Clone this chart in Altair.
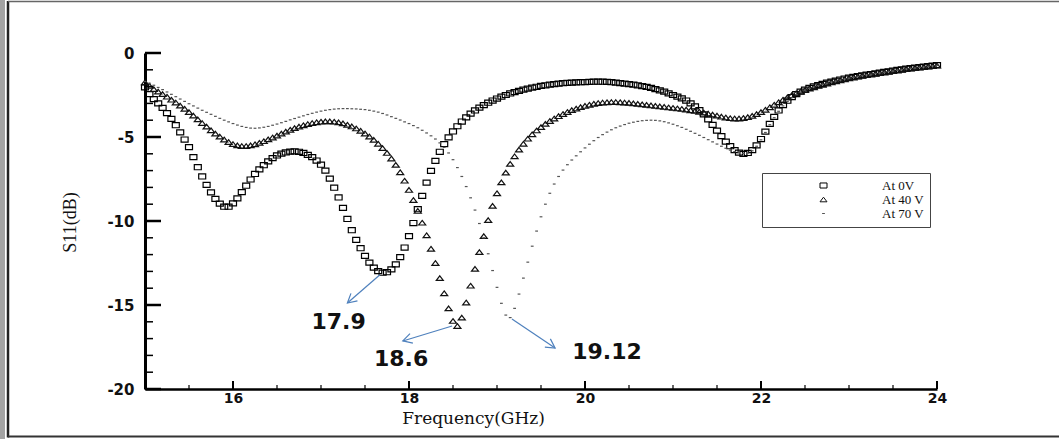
import math

import altair as alt
import numpy as np
import pandas as pd

# ---- frequency sweep (GHz) and reflection coefficient S11 (dB) per bias voltage ----
FREQ = np.round(np.linspace(15.0, 24.0, 181), 2)

S11_0V = [
    -2.05, -2.45, -2.75, -3.00, -3.27, -3.58, -3.92, -4.30, -4.72, -5.15,
    -5.60, -6.20, -6.80, -7.35, -7.85, -8.30, -8.68, -8.97, -9.15, -9.15,
    -8.95, -8.65, -8.28, -7.90, -7.53, -7.20, -6.93, -6.68, -6.45, -6.26,
    -6.10, -5.99, -5.92, -5.87, -5.85, -5.88, -5.95, -6.06, -6.20, -6.40,
    -6.65, -7.00, -7.48, -8.02, -8.60, -9.22, -9.88, -10.55, -11.12, -11.62,
    -12.08, -12.48, -12.78, -12.98, -13.08, -13.05, -12.88, -12.58, -12.15, -11.58,
    -10.90, -10.12, -9.30, -8.50, -7.72, -7.02, -6.42, -5.88, -5.42, -5.02,
    -4.67, -4.36, -4.08, -3.83, -3.61, -3.42, -3.25, -3.10, -2.96, -2.83,
    -2.71, -2.60, -2.50, -2.41, -2.33, -2.25, -2.18, -2.12, -2.06, -2.01,
    -1.96, -1.92, -1.88, -1.85, -1.82, -1.80, -1.78, -1.76, -1.75, -1.74,
    -1.73, -1.72, -1.71, -1.71, -1.71, -1.72, -1.74, -1.76, -1.79, -1.82,
    -1.85, -1.88, -1.92, -1.97, -2.02, -2.08, -2.15, -2.22, -2.30, -2.40,
    -2.50, -2.60, -2.70, -2.83, -3.00, -3.18, -3.40, -3.65, -3.95, -4.28,
    -4.62, -4.95, -5.28, -5.55, -5.78, -5.93, -6.00, -5.95, -5.78, -5.50,
    -5.12, -4.68, -4.22, -3.80, -3.42, -3.10, -2.84, -2.62, -2.45, -2.30,
    -2.18, -2.08, -1.99, -1.91, -1.84, -1.77, -1.70, -1.64, -1.58, -1.52,
    -1.47, -1.42, -1.37, -1.33, -1.29, -1.25, -1.21, -1.17, -1.13, -1.09,
    -1.05, -1.01, -0.97, -0.93, -0.90, -0.87, -0.84, -0.81, -0.78, -0.75,
    -0.72,
]

S11_40V = [
    -1.75, -1.95, -2.15, -2.30, -2.45, -2.60, -2.78, -2.95, -3.13, -3.32,
    -3.52, -3.73, -3.95, -4.17, -4.38, -4.60, -4.80, -4.98, -5.15, -5.30,
    -5.42, -5.50, -5.54, -5.54, -5.50, -5.43, -5.35, -5.25, -5.14, -5.03,
    -4.92, -4.80, -4.68, -4.57, -4.47, -4.38, -4.30, -4.23, -4.17, -4.12,
    -4.09, -4.07, -4.07, -4.09, -4.13, -4.19, -4.27, -4.37, -4.49, -4.63,
    -4.79, -4.97, -5.17, -5.40, -5.66, -5.95, -6.28, -6.66, -7.10, -7.60,
    -8.15, -8.75, -9.40, -10.10, -10.85, -11.65, -12.50, -13.40, -14.30, -15.20,
    -15.95, -16.25, -15.75, -14.85, -13.85, -12.85, -11.85, -10.90, -9.95, -9.10,
    -8.35, -7.70, -7.12, -6.60, -6.15, -5.75, -5.40, -5.10, -4.84, -4.61,
    -4.41, -4.22, -4.05, -3.90, -3.76, -3.63, -3.51, -3.40, -3.31, -3.22,
    -3.15, -3.08, -3.02, -2.98, -2.95, -2.93, -2.92, -2.92, -2.93, -2.95,
    -2.97, -3.00, -3.03, -3.06, -3.09, -3.12, -3.15, -3.18, -3.21, -3.24,
    -3.27, -3.30, -3.33, -3.37, -3.41, -3.45, -3.50, -3.55, -3.61, -3.67,
    -3.73, -3.79, -3.84, -3.88, -3.90, -3.90, -3.87, -3.82, -3.74, -3.64,
    -3.52, -3.38, -3.23, -3.08, -2.93, -2.78, -2.64, -2.51, -2.40, -2.30,
    -2.21, -2.12, -2.04, -1.96, -1.89, -1.82, -1.75, -1.69, -1.63, -1.57,
    -1.51, -1.46, -1.41, -1.36, -1.32, -1.28, -1.24, -1.20, -1.16, -1.12,
    -1.08, -1.04, -1.00, -0.96, -0.93, -0.90, -0.87, -0.84, -0.81, -0.78,
    -0.75,
]

S11_70V = [
    -1.70, -1.80, -1.92, -2.05, -2.18, -2.32, -2.46, -2.60, -2.74, -2.88,
    -3.02, -3.15, -3.28, -3.41, -3.53, -3.65, -3.77, -3.89, -4.00, -4.10,
    -4.20, -4.29, -4.37, -4.43, -4.47, -4.48, -4.46, -4.42, -4.37, -4.30,
    -4.23, -4.15, -4.07, -3.98, -3.90, -3.82, -3.74, -3.66, -3.59, -3.52,
    -3.46, -3.41, -3.37, -3.34, -3.32, -3.31, -3.31, -3.32, -3.33, -3.35,
    -3.37, -3.41, -3.46, -3.52, -3.60, -3.69, -3.79, -3.89, -3.99, -4.10,
    -4.20, -4.32, -4.45, -4.60, -4.76, -4.93, -5.12, -5.35, -5.62, -5.95,
    -6.35, -6.82, -7.35, -7.95, -8.62, -9.35, -10.15, -11.00, -11.95, -12.95,
    -13.95, -14.90, -15.60, -15.75, -15.20, -14.35, -13.40, -12.45, -11.50, -10.60,
    -9.75, -9.00, -8.35, -7.80, -7.35, -6.97, -6.65, -6.37, -6.12, -5.88,
    -5.65, -5.43, -5.22, -5.03, -4.86, -4.71, -4.57, -4.45, -4.35, -4.26,
    -4.18, -4.12, -4.07, -4.03, -4.01, -4.00, -4.01, -4.04, -4.09, -4.16,
    -4.24, -4.33, -4.43, -4.54, -4.66, -4.78, -4.90, -5.03, -5.16, -5.29,
    -5.42, -5.55, -5.67, -5.78, -5.87, -5.94, -5.98, -5.96, -5.82, -5.55,
    -5.17, -4.73, -4.27, -3.85, -3.47, -3.15, -2.88, -2.66, -2.48, -2.33,
    -2.21, -2.11, -2.02, -1.94, -1.87, -1.80, -1.73, -1.67, -1.61, -1.55,
    -1.50, -1.45, -1.40, -1.35, -1.31, -1.27, -1.23, -1.19, -1.15, -1.11,
    -1.07, -1.03, -0.99, -0.95, -0.92, -0.89, -0.86, -0.83, -0.80, -0.77,
    -0.74,
]

SERIES = ["At 0V", "At 40 V", "At 70 V"]

# ---- axis ticks ----
X_LABEL_TICKS = [16, 18, 20, 22, 24]
X_MINOR_TICKS = [15.5, 16.5, 17, 17.5, 18.5, 19, 19.5, 20.5, 21, 21.5, 22.5, 23, 23.5]
Y_LABEL_TICKS = [0, -5, -10, -15, -20]
Y_MINOR_TICKS = [-1, -2, -3, -4, -6, -7, -8, -9, -11, -12, -13, -14, -16, -17, -18, -19]

# ---- resonance call-outs: arrow tail (on the curve), arrow tip, label ----
CALLOUT_TEXT = ["17.9", "18.6", "19.12"]
ARROW_FROM_F = [17.67, 18.49, 19.17]
ARROW_FROM_S = [-13.20, -16.25, -15.83]
ARROW_TO_F = [17.30, 17.93, 19.66]
ARROW_TO_S = [-14.88, -17.14, -17.56]
TEXT_F = [17.20, 17.91, 20.25]
TEXT_S = [-16.01, -18.21, -17.80]

# ---- geometry ----
W, H = 792, 336
X_DOMAIN = [15, 24]
Y_DOMAIN = [-20, 0]
PAD = {"left": 145, "top": 53, "right": 122, "bottom": 50}

xs = alt.Scale(domain=X_DOMAIN, nice=False, zero=False)
ys = alt.Scale(domain=Y_DOMAIN, nice=False, zero=False)

# one axis definition shared by every layer so the merged axes stay intact
X_AXIS = alt.Axis(
    values=X_LABEL_TICKS, ticks=False, grid=False, labelFlush=False,
    domainColor="black", domainWidth=2.5,
    labelFont="DejaVu Sans", labelFontWeight="bold", labelFontSize=14,
    labelColor="#111111", labelPadding=2,
    title="Frequency(GHz)", titleFont="DejaVu Serif", titleFontWeight="normal",
    titleFontSize=17, titleColor="#111111", titleX=328, titleY=34,
    titleAlign="center", titleBaseline="alphabetic",
)
Y_AXIS = alt.Axis(
    values=Y_LABEL_TICKS, ticks=False, grid=False, labelFlush=False,
    domainColor="black", domainWidth=3,
    labelExpr="'' + datum.value",
    labelFont="DejaVu Sans", labelFontWeight="bold", labelFontSize=15,
    labelColor="#111111", labelPadding=11,
    title="S11(dB)", titleFont="Liberation Serif", titleFontWeight="normal",
    titleFontSize=18, titleColor="#111111", titleAngle=270,
    titleX=-75, titleY=169, titleAlign="center", titleBaseline="middle",
)


def X(field):
    return alt.X(field, scale=xs, axis=X_AXIS)


def Y(field):
    return alt.Y(field, scale=ys, axis=Y_AXIS)


SQUARE = "M-1,-0.72L1,-0.72L1,0.72L-1,0.72Z"
TRIANGLE = "M0,-0.66L1,0.66L-1,0.66Z"
DASH = "M-0.4,0L0.4,0"
CHEVRON = "M-1,-0.55L0,0L-1,0.55"

curves = pd.DataFrame({
    "freq": np.tile(FREQ, 3),
    "s11": S11_0V + S11_40V + S11_70V,
    "series": np.repeat(SERIES, len(FREQ)),
})

legend = alt.Legend(
    title=None, orient="none", legendX=617, legendY=120,
    strokeColor="#444444", fillColor="white", padding=6,
    symbolOffset=49, labelOffset=52, symbolSize=49, symbolStrokeWidth=1,
    labelFont="Liberation Serif", labelFontSize=13, labelColor="#111111",
    rowPadding=0,
)

points = alt.Chart(curves).mark_point(
    filled=False, size=49, strokeWidth=1.2, opacity=1
).encode(
    x=X("freq:Q"),
    y=Y("s11:Q"),
    shape=alt.Shape("series:N", scale=alt.Scale(domain=SERIES, range=[SQUARE, TRIANGLE, DASH]),
                    legend=legend),
    color=alt.Color("series:N", scale=alt.Scale(domain=SERIES, range=["#000000", "#111111", "#555555"]),
                    legend=legend),
)


# inward-pointing tick marks drawn through the scales
def x_ticks(values, length, width):
    return alt.Chart(pd.DataFrame({"freq": values})).mark_rule(color="black", strokeWidth=width).encode(
        x=X("freq:Q"), y=alt.value(H), y2=alt.value(H - length))


def y_ticks(values, length, width):
    return alt.Chart(pd.DataFrame({"s11": values})).mark_rule(color="black", strokeWidth=width).encode(
        y=Y("s11:Q"), x=alt.value(0), x2=alt.value(length))


ticks = [
    x_ticks(X_LABEL_TICKS, 8, 2),
    x_ticks(X_MINOR_TICKS, 4, 1.2),
    y_ticks(Y_LABEL_TICKS, 16, 2.5),
    y_ticks(Y_MINOR_TICKS, 8, 1.5),
]

# page frame around the figure
one = pd.DataFrame({"k": [0]})
frame = [
    alt.Chart(one).mark_rule(color="#a3a3a3", strokeWidth=5).encode(
        x=alt.value(-142.5), y=alt.value(-53), y2=alt.value(386)),
    alt.Chart(one).mark_rule(color="#222222", strokeWidth=2.5).encode(
        x=alt.value(-137), y=alt.value(-52), y2=alt.value(384.5)),
    alt.Chart(one).mark_rule(color="#666666", strokeWidth=1.5).encode(
        y=alt.value(-51.5), x=alt.value(-137), x2=alt.value(914)),
    alt.Chart(one).mark_rule(color="#333333", strokeWidth=2).encode(
        y=alt.value(383.5), x=alt.value(-137), x2=alt.value(914)),
]

# call-out arrows
px_per_ghz = W / (X_DOMAIN[1] - X_DOMAIN[0])
px_per_db = H / (Y_DOMAIN[1] - Y_DOMAIN[0])
angles = [
    math.degrees(math.atan2(-(s2 - s1) * px_per_db, (f2 - f1) * px_per_ghz)) % 360
    for f1, s1, f2, s2 in zip(ARROW_FROM_F, ARROW_FROM_S, ARROW_TO_F, ARROW_TO_S)
]
callouts = pd.DataFrame({
    "freq": ARROW_FROM_F, "s11": ARROW_FROM_S,
    "f2": ARROW_TO_F, "s2": ARROW_TO_S,
    "tf": TEXT_F, "ts": TEXT_S, "text": CALLOUT_TEXT, "angle": angles,
})

arrow_color = "#4F81BD"
shafts = alt.Chart(callouts).mark_rule(color=arrow_color, strokeWidth=1.2).encode(
    x=X("freq:Q"), y=Y("s11:Q"), x2="f2:Q", y2="s2:Q")
heads = alt.Chart(callouts).mark_point(
    shape=CHEVRON, filled=False, size=324, strokeWidth=1.2, color=arrow_color, opacity=1
).encode(
    x=X("f2:Q"), y=Y("s2:Q"),
    angle=alt.Angle("angle:Q", scale=None))
labels = alt.Chart(callouts).mark_text(
    font="DejaVu Sans", fontWeight="bold", fontSize=22, color="#111111",
    align="center", baseline="middle"
).encode(
    x=X("tf:Q"), y=Y("ts:Q"), text="text:N")

chart = alt.layer(
    points, *frame, *ticks, shafts, heads, labels
).properties(
    width=W, height=H, padding=PAD,
    autosize=alt.AutoSizeParams(type="none"),
    background="white",
).configure_view(strokeWidth=0)

chart.save("out.html", embed_options={"renderer": "svg", "actions": False})
